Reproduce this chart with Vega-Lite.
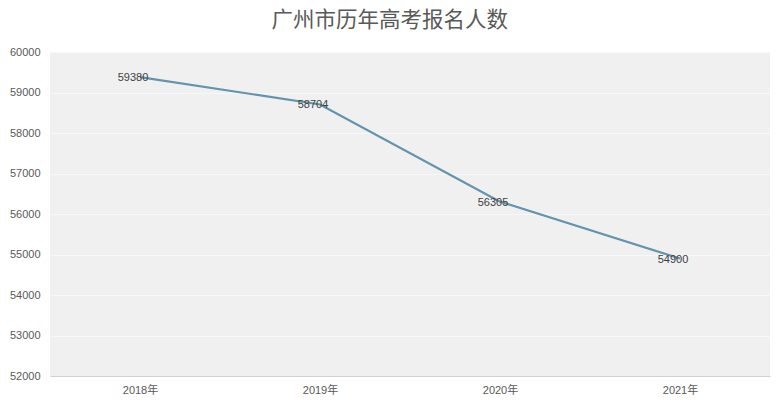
{
  "$schema": "https://vega.github.io/schema/vega-lite/v6.json",
  "autosize": "none",
  "width": 720,
  "height": 324,
  "padding": {"left": 50, "top": 52, "right": 13, "bottom": 33},
  "background": "white",
  "title": {
    "text": "广州市历年高考报名人数",
    "font": "Noto Sans CJK SC",
    "fontSize": 21.5,
    "fontWeight": "normal",
    "color": "#595959",
    "anchor": "middle",
    "frame": "bounds",
    "offset": 15
  },
  "data": {
    "values": [
      {"year": "2018年", "count": 59380},
      {"year": "2019年", "count": 58704},
      {"year": "2020年", "count": 56305},
      {"year": "2021年", "count": 54900}
    ]
  },
  "config": {
    "view": {"fill": "#f0f0f0", "stroke": null},
    "axis": {
      "labelFont": "Liberation Sans, Noto Sans CJK SC, sans-serif",
      "labelFontSize": 11,
      "labelColor": "#595959",
      "ticks": false,
      "title": null
    }
  },
  "encoding": {
    "x": {
      "field": "year",
      "type": "ordinal",
      "scale": {"type": "point", "padding": 0.5},
      "axis": {
        "labelAngle": 0,
        "labelPadding": 8,
        "domainColor": "#d0d0d0",
        "grid": false
      }
    },
    "y": {
      "field": "count",
      "type": "quantitative",
      "scale": {"domain": [52000, 60000], "nice": false, "zero": false},
      "axis": {
        "values": [52000, 53000, 54000, 55000, 56000, 57000, 58000, 59000, 60000],
        "format": "d",
        "domain": false,
        "labelPadding": 10,
        "gridColor": "#f8f8f8",
        "gridWidth": 1
      }
    }
  },
  "layer": [
    {
      "mark": {"type": "line", "color": "#6393ad", "strokeWidth": 2.2}
    },
    {
      "mark": {
        "type": "text",
        "font": "Liberation Sans, sans-serif",
        "fontSize": 11,
        "color": "#404040",
        "dx": -7,
        "dy": 1
      },
      "encoding": {"text": {"field": "count", "type": "quantitative", "format": "d"}}
    }
  ]
}
